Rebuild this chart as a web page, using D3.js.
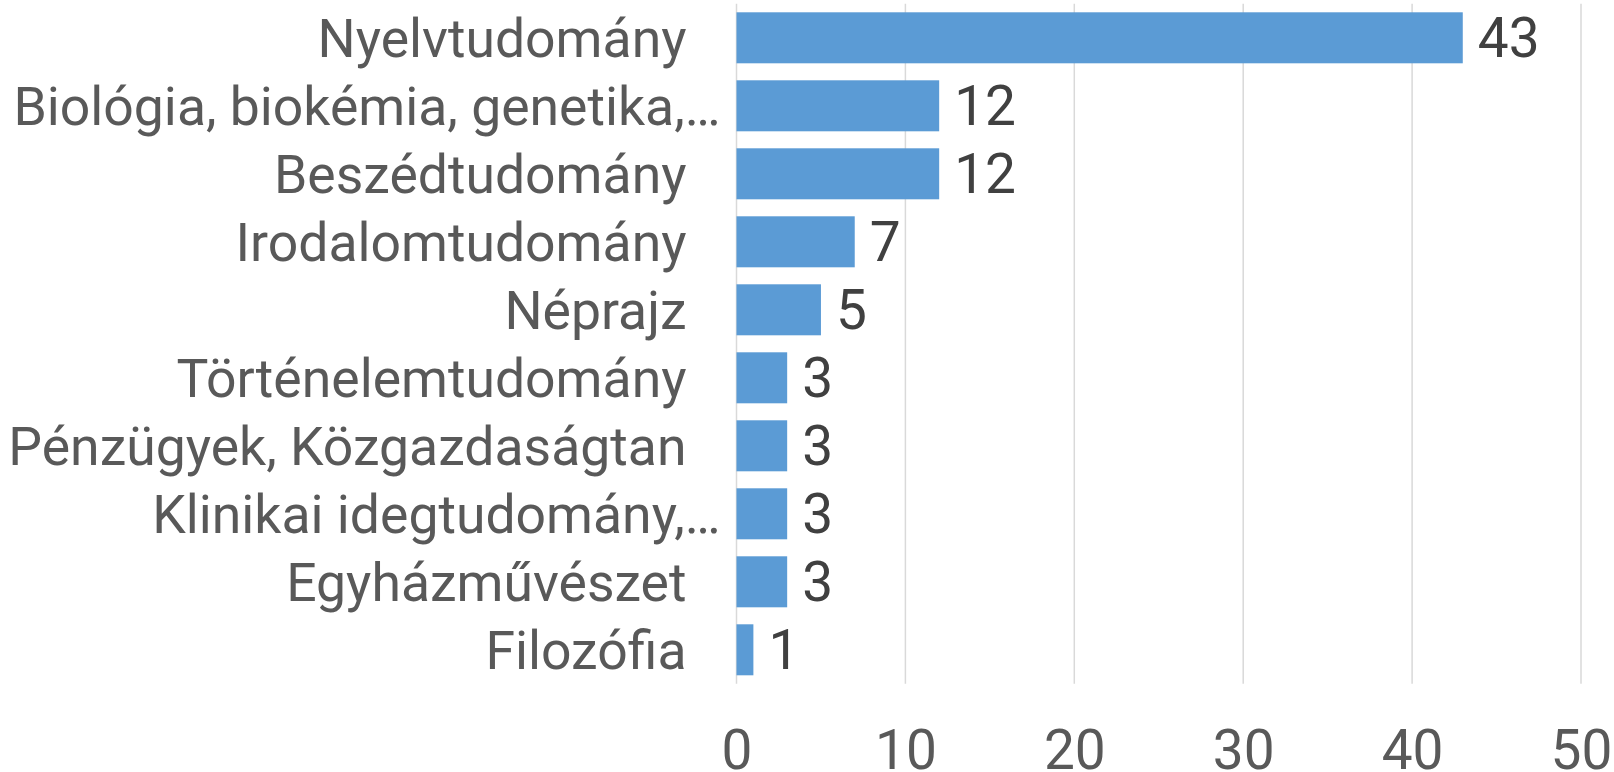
<!DOCTYPE html>
<html><head><meta charset="utf-8">
<script src="https://cdn.jsdelivr.net/npm/d3@7"></script>
<style>html,body{margin:0;padding:0;background:#fff;}svg{display:block;}</style>
</head><body>
<svg id="c" width="1614" height="772"></svg>
<script>
const categories = ["Nyelvtudomány","Biológia, biokémia, genetika,…","Beszédtudomány","Irodalomtudomány","Néprajz","Történelemtudomány","Pénzügyek, Közgazdaságtan","Klinikai idegtudomány,…","Egyházművészet","Filozófia"];
const values = [43,12,12,7,5,3,3,3,3,1];
const ticks = [0,10,20,30,40,50];

const svg = d3.select("#c");
const x = d3.scaleLinear().domain([0,50]).range([736.5,1581]);
const y = d3.scaleBand().domain(categories).range([3.8,683.8]).paddingInner(0.25).paddingOuter(0.125);
const font = "Roboto, 'Noto Sans', sans-serif";

// gridlines
svg.append("g").selectAll("line").data(ticks).join("line")
  .attr("x1", d=>x(d)).attr("x2", d=>x(d))
  .attr("y1", y.range()[0]).attr("y2", y.range()[1])
  .attr("stroke", "#d9d9d9").attr("stroke-width", 1.5);

// bars
svg.append("g").selectAll("rect").data(values).join("rect")
  .attr("x", x(0)).attr("y", (d,i)=>y(categories[i]))
  .attr("width", d=>x(d)-x(0)).attr("height", y.bandwidth())
  .attr("fill", "#5b9bd5");

const cap = 55*0.711/2;
// value labels
svg.append("g").selectAll("text").data(values).join("text")
  .attr("x", d=>x(d)+15).attr("y", (d,i)=>y(categories[i])+y.bandwidth()/2+cap)
  .attr("font-family", font).attr("font-size", 55).attr("fill", "#404040")
  .text(d=>d);

// category labels
svg.append("g").selectAll("text").data(categories).join("text")
  .attr("x", d=> d.endsWith("…") ? x(0)-16 : x(0)-50)
  .attr("y", d=>y(d)+y.bandwidth()/2+19.2)
  .attr("text-anchor","end")
  .attr("font-family", font).attr("font-size", 53.5).attr("fill", "#595959")
  .text(d=>d);

// x axis tick labels
const ax = svg.append("g").attr("transform", "translate(0,769)")
  .call(d3.axisBottom(x).tickValues(ticks).tickSize(0).tickPadding(0));
ax.select(".domain").remove();
ax.selectAll("text").attr("dy", null).attr("y", 0)
  .attr("font-family", font).attr("font-size", 55).attr("fill", "#595959");
</script>
</body></html>
